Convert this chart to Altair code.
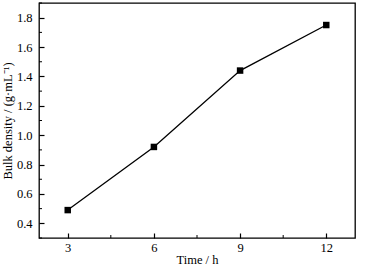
import altair as alt
import pandas as pd

time_h = [3, 6, 9, 12]
bulk_density = [0.49, 0.92, 1.44, 1.75]
x_major = [3, 6, 9, 12]
x_minor = [4.5, 7.5, 10.5]
y_major = [0.4, 0.6, 0.8, 1.0, 1.2, 1.4, 1.6, 1.8]
y_minor = [0.3, 0.5, 0.7, 0.9, 1.1, 1.3, 1.5, 1.7, 1.9]

W, H = 316, 235
FONT = "Liberation Serif"

df = pd.DataFrame({"t": time_h, "d": bulk_density})
xs = alt.Scale(domain=[2, 13], nice=False)
ys = alt.Scale(domain=[0.3, 1.9], nice=False, zero=False)

xaxis = alt.Axis(values=x_major, title="Time / h", domain=False, offset=-5, tickSize=5,
                 labelPadding=3, grid=False, titlePadding=0, titleFontWeight="normal",
                 tickWidth=1.2)
yaxis = alt.Axis(values=y_major, format=".1f", title="Bulk density / (g·mL⁻¹)", domain=False,
                 offset=-5, tickSize=5, labelPadding=7, grid=False, titlePadding=2,
                 titleFontWeight="normal", tickWidth=1.2)

line = alt.Chart(df).mark_line(color="black", strokeWidth=1.3).encode(
    x=alt.X("t:Q", scale=xs, axis=xaxis),
    y=alt.Y("d:Q", scale=ys, axis=yaxis),
)
pts = alt.Chart(df).mark_square(color="black", size=42, opacity=1).encode(
    x=alt.X("t:Q", scale=xs, axis=xaxis), y=alt.Y("d:Q", scale=ys, axis=yaxis)
)
xm = alt.Chart(pd.DataFrame({"t": x_minor})).mark_rule(color="black", strokeWidth=1).encode(
    x=alt.X("t:Q", scale=xs, axis=xaxis), y=alt.value(H), y2=alt.value(H - 3)
)
ym = alt.Chart(pd.DataFrame({"d": y_minor})).mark_rule(color="black", strokeWidth=1).encode(
    y=alt.Y("d:Q", scale=ys, axis=yaxis), x=alt.value(0), x2=alt.value(3)
)

chart = alt.layer(line, pts, xm, ym).properties(
    width=W, height=H,
    background="white",
    autosize=alt.AutoSizeParams(type="none"),
    padding={"left": 39, "top": 3, "right": 11, "bottom": 31},
).configure_view(stroke="black", strokeWidth=1.3).configure_axis(
    labelFont=FONT, titleFont=FONT, labelFontSize=12.5, titleFontSize=12.5,
    labelColor="black", titleColor="black", tickColor="black", titleFontWeight="normal",
)

chart.save("out.html", embed_options={"renderer": "svg", "actions": False})
